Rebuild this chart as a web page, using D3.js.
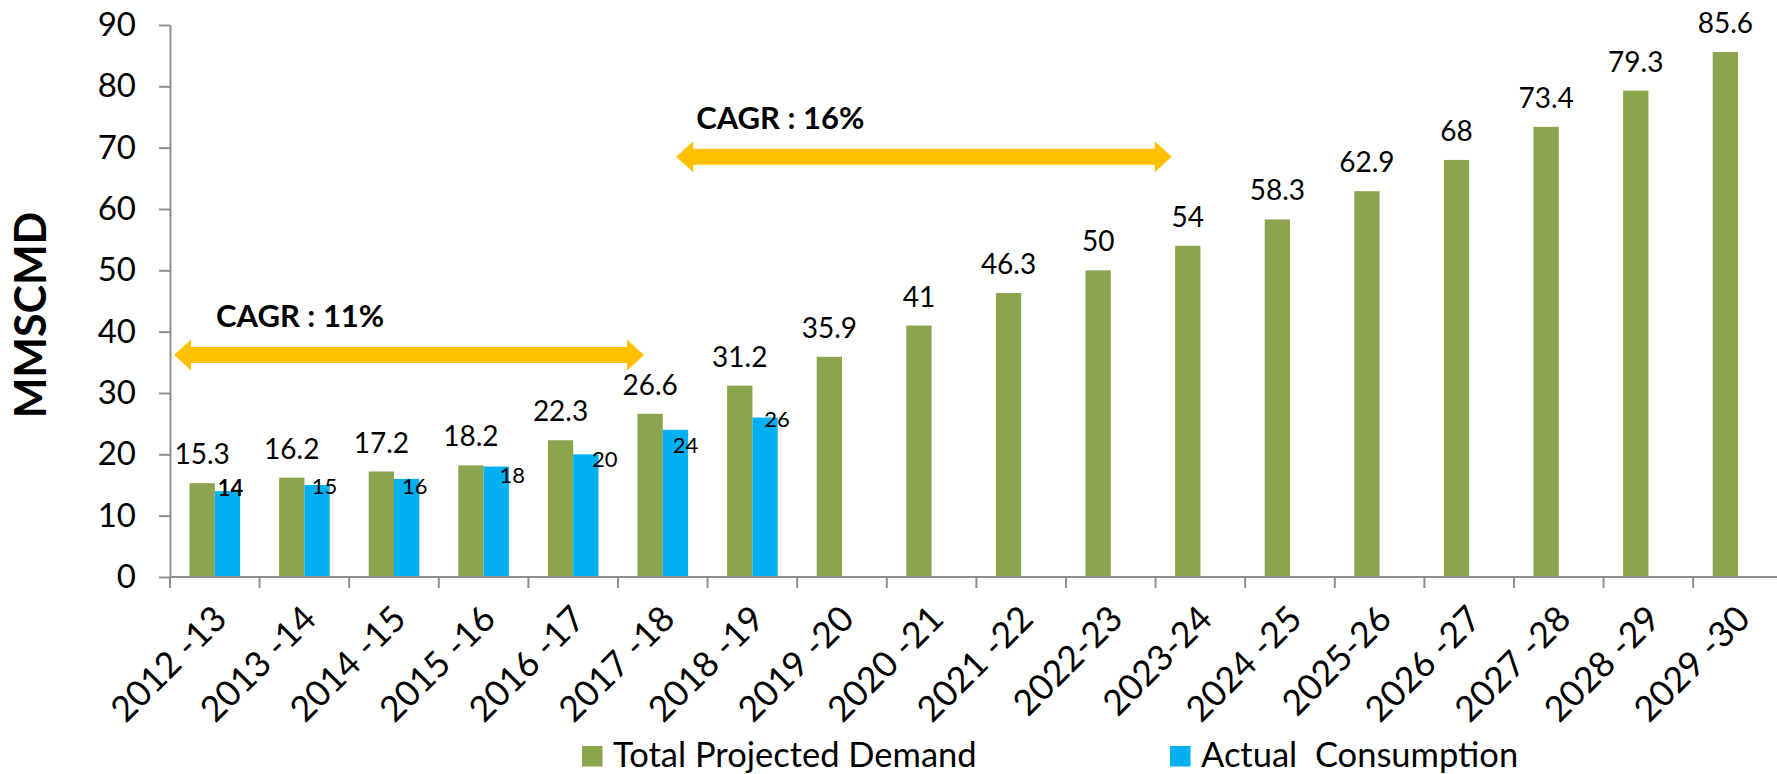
<!DOCTYPE html>
<html>
<head>
<meta charset="utf-8">
<script src="https://cdn.jsdelivr.net/npm/d3@7"></script>
<style>
  html, body { margin: 0; padding: 0; background: #ffffff; }
  svg { display: block; }
  text { font-family: Lato, "Open Sans", sans-serif; fill: #000; }
</style>
</head>
<body>
<svg id="chart" width="1777" height="774"></svg>
<script>
// ---------- data ----------
const categories = ["2012 -13","2013 -14","2014 -15","2015 -16","2016 -17","2017 -18","2018 -19","2019 -20","2020 -21","2021 -22","2022-23","2023-24","2024 -25","2025-26","2026 -27","2027 -28","2028 -29","2029 -30"];
const projectedDemand = [15.3,16.2,17.2,18.2,22.3,26.6,31.2,35.9,41,46.3,50,54,58.3,62.9,68,73.4,79.3,85.6];
const actualConsumption = [14,15,16,18,20,24,26];
const yTicks = [0,10,20,30,40,50,60,70,80,90];
const seriesNames = ["Total Projected Demand", "Actual  Consumption"];
const cagrLabels = ["CAGR : 11%", "CAGR : 16%"];
// annotation spans in category-index units and value units
const cagrFrom = [0.045, 5.65];
const cagrTo = [5.29, 11.18];
const cagrLevel = [36.2, 68.5];

// ---------- layout / style ----------
const GREEN = "#8BA54F", BLUE = "#00B0F0", AXIS = "#8E8E8E", GOLD = "#FFC000";
const x0 = 170, step = 89.6, barW = 25.3;
// small manual nudges of the actual-consumption labels [dx, dy]
const actualNudge = [[3,-4],[7.5,0],[8,7],[16,8],[19,4],[10,15],[12,1]];

const svg = d3.select("#chart");
const x = d3.scaleBand().domain(categories).range([x0, x0 + step * categories.length]).padding(0);
const xi = d3.scaleLinear().domain([0, categories.length]).range([x0, x0 + step * categories.length]);
const y = d3.scaleLinear().domain([0, 90]).range([577, 25]);

// bars
svg.append("g").selectAll("rect").data(projectedDemand).join("rect")
  .attr("x", (d,i) => x(categories[i]) + x.bandwidth()/2 - barW)
  .attr("y", d => y(d)).attr("width", barW).attr("height", d => y(0) - y(d))
  .attr("fill", GREEN);
svg.append("g").selectAll("rect").data(actualConsumption).join("rect")
  .attr("x", (d,i) => x(categories[i]) + x.bandwidth()/2)
  .attr("y", d => y(d)).attr("width", barW).attr("height", d => y(0) - y(d))
  .attr("fill", BLUE);

// y axis
const yAxis = d3.axisLeft(y).tickValues(yTicks).tickSize(11).tickPadding(23).tickSizeOuter(0);
const gy = svg.append("g").attr("transform", `translate(${x0},0)`).call(yAxis);
gy.select(".domain").attr("stroke", AXIS).attr("stroke-width", 2);
gy.selectAll(".tick line").attr("stroke", AXIS).attr("stroke-width", 2);
gy.selectAll(".tick text").attr("font-size", 33).attr("font-family", "Lato").attr("fill", "#000");

// x axis line and boundary ticks
svg.append("line").attr("x1", x0).attr("x2", 1777).attr("y1", y(0)).attr("y2", y(0))
  .attr("stroke", AXIS).attr("stroke-width", 2);
svg.append("g").selectAll("line").data(categories).join("line")
  .attr("x1", d => x(d)).attr("x2", d => x(d))
  .attr("y1", y(0)).attr("y2", y(0) + 11)
  .attr("stroke", AXIS).attr("stroke-width", 2);

// x labels
svg.append("g").selectAll("text").data(categories).join("text")
  .attr("transform", d => `translate(${x(d) + x.bandwidth()/2 + 14},${y(0) + 44}) rotate(-45)`)
  .attr("text-anchor", "end")
  .attr("font-size", 35.5)
  .text(d => d);

// data labels
svg.append("g").selectAll("text").data(projectedDemand).join("text")
  .attr("x", (d,i) => x(categories[i]) + x.bandwidth()/2 - barW/2)
  .attr("y", d => y(d) - 30)
  .attr("text-anchor", "middle").attr("dominant-baseline", "central")
  .attr("font-size", 28)
  .text(d => d);
svg.append("g").selectAll("text").data(actualConsumption).join("text")
  .attr("x", (d,i) => x(categories[i]) + x.bandwidth()/2 + barW/2 + actualNudge[i][0])
  .attr("y", (d,i) => y(d) + actualNudge[i][1])
  .attr("text-anchor", "middle").attr("dominant-baseline", "central")
  .attr("font-size", 22)
  .attr("font-weight", (d,i) => i === 0 ? "bold" : "normal")
  .text(d => d);

// y title
svg.append("text")
  .attr("transform", "translate(46,315) rotate(-90)")
  .attr("text-anchor", "middle")
  .attr("font-size", 43).attr("font-weight", "bold")
  .text("MMSCMD");

// CAGR arrows
function arrow(xa, xb, yc) {
  const t = 8, hh = 15.5, hl = 17;
  const p = [[xa, yc],[xa+hl, yc-hh],[xa+hl, yc-t],[xb-hl, yc-t],[xb-hl, yc-hh],[xb, yc],
             [xb-hl, yc+hh],[xb-hl, yc+t],[xa+hl, yc+t],[xa+hl, yc+hh]];
  return "M" + p.map(q => q.join(",")).join("L") + "Z";
}
cagrLabels.forEach((lab, k) => {
  const xa = xi(cagrFrom[k]), xb = xi(cagrTo[k]), yc = y(cagrLevel[k]);
  svg.append("path").attr("d", arrow(xa, xb, yc)).attr("fill", GOLD);
  svg.append("text").attr("x", xa + 42 - (k === 1 ? 22 : 0)).attr("y", yc - 28)
    .attr("font-size", 31).attr("font-weight", "bold").text(lab);
});

// legend
const legendX = [582, 1170];
seriesNames.forEach((name, k) => {
  svg.append("rect").attr("x", legendX[k]).attr("y", 746).attr("width", 20.5).attr("height", 20.5)
    .attr("fill", k === 0 ? GREEN : BLUE);
  svg.append("text").attr("x", legendX[k] + 31).attr("y", 767)
    .attr("font-size", 34.5).style("white-space", "pre").text(name);
});
</script>
</body>
</html>
